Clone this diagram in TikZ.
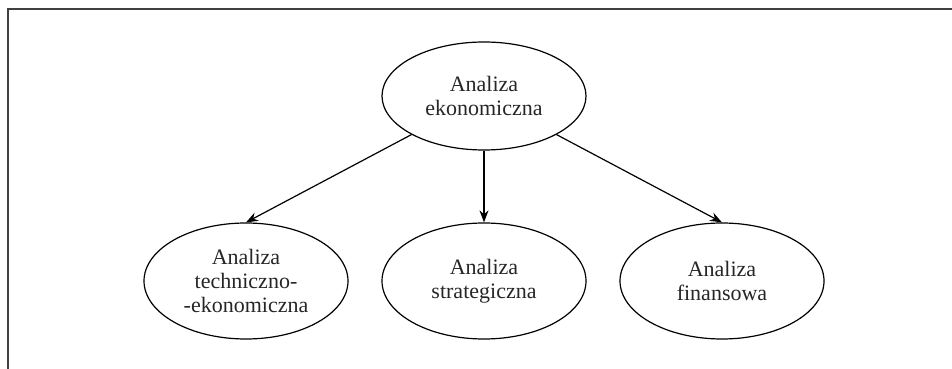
\documentclass[tikz,border=0pt]{standalone}
\usepackage{fontspec}
\setmainfont{Liberation Serif}
\usetikzlibrary{arrows.meta,positioning,shapes.geometric}

\begin{document}
\begin{tikzpicture}[x=0.5pt,y=0.5pt,node distance=92.5pt and 119pt,on grid,
    >={Stealth[length=6pt,width=4.5pt]}]
       \tikzstyle{every node}=[font=\fontsize{11}{12.2}\selectfont,text=black!85]
       \tikzstyle{elli}=[ellipse,draw,line width=0.6pt,align=center,
         minimum width=102pt,minimum height=58pt,inner sep=0pt]

       \useasboundingbox (0,0) rectangle (952,369);
       \draw[black!75,line width=1pt] (8,0) -- (8,360) -- (952,360);

       \node[elli,minimum height=54pt] (ekon) at (484,273) {Analiza\\ekonomiczna};
       \node[elli] (strat) [below=of ekon] {Analiza\\strategiczna};
       \node[elli] (tech) [left=of strat] {Analiza\\techniczno-\\-ekonomiczna};
       \node[elli] (fin) [right=of strat] {Analiza\\finansowa};

       \path[->,line width=0.6pt]
       (ekon.south west) edge (tech.north)
       (ekon) edge (strat)
       (ekon.south east) edge (fin.north);
\end{tikzpicture}
\end{document}
